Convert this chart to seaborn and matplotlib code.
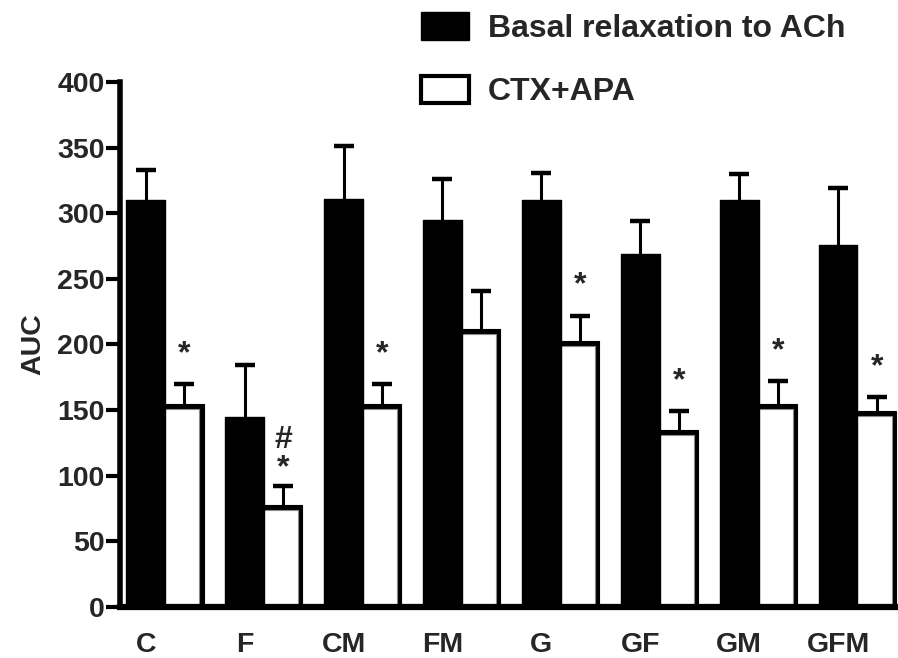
import matplotlib
matplotlib.use("Agg")
import matplotlib.pyplot as plt
import pandas as pd
import seaborn as sns
from matplotlib.patches import Patch, Rectangle
from matplotlib.transforms import ScaledTranslation

# Area under the concentration-response curve, mean and SEM per group
groups = ["C", "F", "CM", "FM", "G", "GF", "GM", "GFM"]
series = ["Basal relaxation to ACh", "CTX+APA"]
basal_mean = [310, 145, 311, 295, 310, 269, 310, 276]
basal_sem = [23, 39, 40, 31, 21, 25, 20, 43]
ctx_mean = [155, 78, 155, 212, 203, 135, 155, 149]
ctx_sem = [15, 14, 15, 29, 19, 14, 17, 11]
# significance marks above the CTX+APA bars (top line first)
marks = ["*", "#\n*", "*", "", "*", "*", "*", "*"]
y_ticks = [0, 50, 100, 150, 200, 250, 300, 350, 400]

sns.set_style("ticks")
plt.rcParams["font.family"] = ["Liberation Sans", "DejaVu Sans"]
plt.rcParams["font.weight"] = "bold"
plt.rcParams["axes.labelweight"] = "bold"

LABEL_SIZE = 20.5
LEGEND_SIZE = 23
MARK_SIZE = 23

df = pd.DataFrame({
    "group": groups * 2,
    "series": [series[0]] * len(groups) + [series[1]] * len(groups),
    "auc": basal_mean + ctx_mean,
})

fig = plt.figure(figsize=(8.98, 6.58), dpi=100)
ax = fig.add_axes([0.1336, 0.0775, 0.8664, 0.7979])

bar_w = 0.78
sns.barplot(data=df, x="group", y="auc", hue="series", order=groups,
            hue_order=series, palette=["black", "black"], saturation=1,
            width=bar_w, errorbar=None, legend=False, ax=ax)

basal_bars, ctx_bars = ax.containers[0], ax.containers[1]
for p in basal_bars:
    p.set_edgecolor("black")
    p.set_linewidth(1)
    p.set_joinstyle("round")
    p.set_zorder(4)

# open bars: white face shifted down-left so the black bar shows as a
# heavy top/right border
shift = ax.transData + ScaledTranslation(-0.045, -0.05, fig.dpi_scale_trans)
for p in ctx_bars:
    p.set_edgecolor("black")
    p.set_linewidth(0.8)
    p.set_zorder(2)
    face = Rectangle((p.get_x(), p.get_y()), p.get_width(), p.get_height(),
                     transform=shift, facecolor="white", edgecolor="#8a8a8a",
                     linewidth=0.8, zorder=3)
    ax.add_patch(face)

# SEM bars; the lower half sits behind the bars, so only the upper arm shows
for bars, sem in ((basal_bars, basal_sem), (ctx_bars, ctx_sem)):
    xs = [p.get_x() + p.get_width() / 2 for p in bars]
    ys = [p.get_height() for p in bars]
    ax.errorbar(xs, ys, yerr=sem, fmt="none", ecolor="black",
                elinewidth=2.2, capsize=7.5, capthick=3.2, zorder=1)

# significance marks; stacked marks sit a little closer to the cap
for p, sem, m in zip(ctx_bars, ctx_sem, marks):
    if m:
        gap = 11.5 if "\n" not in m else 2
        ax.text(p.get_x() + p.get_width() / 2, p.get_height() + sem + gap, m,
                ha="center", va="bottom", fontsize=MARK_SIZE,
                fontweight="bold", linespacing=0.92, zorder=6)

ax.set_xlim(-0.455, 7.41)
ax.set_ylim(0, 400)
ax.set_yticks(y_ticks)
ax.set_yticklabels([str(t) for t in y_ticks], fontsize=LABEL_SIZE,
                   fontweight="bold")
ax.set_xticks([i - bar_w / 4 for i in range(len(groups))])
ax.set_xticklabels(groups, fontsize=LABEL_SIZE, fontweight="bold")
ax.tick_params(axis="x", length=0, pad=18)
ax.tick_params(axis="y", length=10, width=3, pad=1, color="black")
ax.set_xlabel("")
ax.set_ylabel("AUC", fontsize=LABEL_SIZE, fontweight="bold", labelpad=8)

for side in ("top", "right"):
    ax.spines[side].set_visible(False)
ax.spines["left"].set_linewidth(4)
ax.spines["bottom"].set_linewidth(4.5)
ax.spines["left"].set_color("black")
ax.spines["bottom"].set_color("black")
ax.spines["left"].set_zorder(5)
ax.spines["bottom"].set_zorder(5)

handles = [Patch(facecolor="black", edgecolor="black", linewidth=1),
           Patch(facecolor="white", edgecolor="black", linewidth=3)]
fig.legend(handles, series, loc="upper left",
           bbox_to_anchor=(421 / 898, 1 - 12 / 658), frameon=False,
           borderpad=0, borderaxespad=0, handlelength=1.5, handleheight=0.95,
           handletextpad=0.6, labelspacing=1.0,
           prop={"size": LEGEND_SIZE, "weight": "bold"})

fig.savefig("out.png", dpi=100)
